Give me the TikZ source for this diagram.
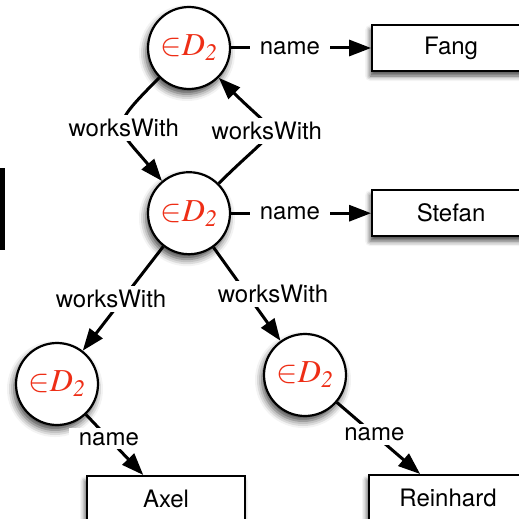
\documentclass[tikz,border=0pt]{standalone}
\usepackage{mathptmx}
\usepackage{fontspec}
\setmainfont{TeX Gyre Heros}
\usepackage{xcolor}
\usepackage{tikz}
\usetikzlibrary{arrows.meta, positioning, shadows.blur}
\definecolor{setred}{RGB}{238,46,22}
\newcommand{\indom}{$\mathord{\in}D_{\mathit{2}}$}

\begin{document}
\begin{tikzpicture}[
  x=1pt, y=1pt, >={Triangle[length=22pt, width=16pt]},
  node distance=140pt,
  res/.style={circle, draw, line width=2.2pt, fill=white, minimum size=82pt, inner sep=0pt,
    text=setred, font=\fontsize{32}{38}\selectfont,
    blur shadow={shadow xshift=-2pt, shadow yshift=-5pt, shadow blur radius=7pt, shadow opacity=75}},
  lit/.style={draw, line width=2pt, fill=white, minimum width=158pt, minimum height=46pt,
    font=\fontsize{24}{28}\selectfont,
    blur shadow={shadow xshift=-2pt, shadow yshift=-5pt, shadow blur radius=5pt, shadow opacity=70}},
  rel/.style={->, line width=3pt},
  lab/.style={fill=white, inner xsep=10pt, inner ysep=4pt, font=\fontsize{24}{28}\selectfont}
]
\useasboundingbox (0,0) rectangle (519,-519);
\clip (0,0) rectangle (519,-519);
\fill (0,-168) rectangle (5,-250);
\node[res] (p1) at (189,-48) {\indom};
\node[res, below=81pt of p1] (p2) {\indom};
\node[res] (p3) at (57,-384) {\indom};
\node[res] (p4) at (305,-375) {\indom};
\node[lit, right=of p1] (fang) {Fang};
\node[lit, right=of p2] (stefan) {Stefan};
\node[lit] (axel) at (166,-499) {Axel};
\node[lit] (reinhard) at (448,-498) {Reinhard};
\draw[rel] (p1) -- node[lab, pos=.42]{name} (fang);
\draw[rel] (p2) -- node[lab, pos=.42]{name} (stefan);
\draw[rel] (p1) to[out=225, in=130, looseness=1.8] node[lab]{worksWith} (p2);
\draw[rel] (p2) to[out=45, in=-45, looseness=2.2] node[lab]{worksWith} (p1);
\draw[rel] (p2) -- node[lab, xshift=-12pt]{worksWith} (p3);
\draw[rel] (p2) -- node[lab, xshift=26pt]{worksWith} (p4);
\draw[rel] (p3) -- node[lab, pos=.4]{name} (axel);
\draw[rel] (p4) -- node[lab, pos=.45]{name} (reinhard);
\end{tikzpicture}
\end{document}
